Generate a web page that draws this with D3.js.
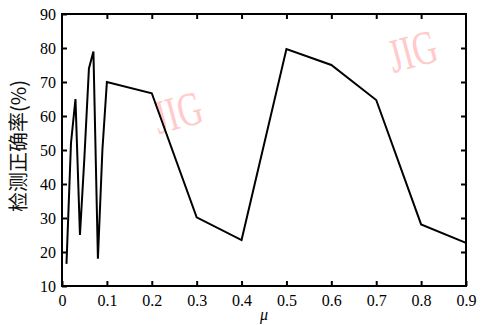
<!DOCTYPE html>
<html>
<head>
<meta charset="utf-8">
<script src="https://cdn.jsdelivr.net/npm/d3@7"></script>
<style>
  html, body { margin: 0; padding: 0; background: #fff; }
  svg { display: block; }
  svg text.serif, svg .axis text { font-family: "Liberation Serif", "Times New Roman", Times, "DejaVu Serif", serif !important; }
</style>
</head>
<body>
<svg id="chart"></svg>
<script>
// data
const muValues = [0.01, 0.02, 0.03, 0.04, 0.05, 0.06, 0.07, 0.08, 0.09, 0.1,
                  0.2, 0.3, 0.4, 0.5, 0.6, 0.7, 0.8, 0.9];
const accuracy = [16.5, 52, 65, 25, 48, 74, 79, 18, 50, 70,
                  66.7, 30.2, 23.5, 79.7, 75, 64.7, 28.1, 22.7];
const xTicks = [0, 0.1, 0.2, 0.3, 0.4, 0.5, 0.6, 0.7, 0.8, 0.9];
const yTicks = [10, 20, 30, 40, 50, 60, 70, 80, 90];
const yLabel = "检测正确率(%)";
const xLabel = "μ";
const watermark = "JIG";

const width = 481, height = 325;
const margin = {top: 14, right: 15, bottom: 39, left: 62};
const w = width - margin.left - margin.right;
const h = height - margin.top - margin.bottom;

const svg = d3.select("#chart")
    .attr("width", width)
    .attr("height", height);

const g = svg.append("g")
    .attr("transform", `translate(${margin.left},${margin.top})`);

const x = d3.scaleLinear().domain([0, 0.9]).range([0, w]);
const y = d3.scaleLinear().domain([10, 90]).range([h, 0]);

// watermarks behind everything (placed in data units of the plot)
const marks = [[0.258, 61], [0.781, 79]];
g.selectAll(".wm")
    .data(marks)
    .join("text")
    .attr("class", "wm serif")
    .attr("transform", d => `translate(${x(d[0])},${y(d[1])}) rotate(-15) scale(0.7,1)`)
    .attr("text-anchor", "middle")
    .attr("dy", "0.33em")
    .attr("font-size", 48)
    .attr("fill", "#ffcaca")
    .text(watermark);

// axes with inward ticks
const fmt = d => d === 0 ? "0" : String(+d.toFixed(1));
const styleAxis = sel => {
    sel.attr("class", "axis").attr("font-size", 16);
    sel.select(".domain").remove();
    sel.selectAll(".tick line").attr("stroke", "#000").attr("stroke-width", 2);
    sel.selectAll(".tick text").attr("fill", "#000");
};

g.append("g")
    .attr("transform", `translate(0,${h})`)
    .call(d3.axisBottom(x).tickValues(xTicks).tickFormat(fmt).tickSizeInner(-5).tickSizeOuter(0).tickPadding(9))
    .call(styleAxis);

g.append("g")
    .call(d3.axisTop(x).tickValues(xTicks.slice(1, -1)).tickFormat("").tickSizeInner(-5).tickSizeOuter(0))
    .call(styleAxis);

g.append("g")
    .call(d3.axisLeft(y).tickValues(yTicks).tickSizeInner(-5).tickSizeOuter(0).tickPadding(6))
    .call(styleAxis);

g.append("g")
    .attr("transform", `translate(${w},0)`)
    .call(d3.axisRight(y).tickValues(yTicks.slice(1, -1)).tickFormat("").tickSizeInner(-5).tickSizeOuter(0))
    .call(styleAxis);

// frame
g.append("rect")
    .attr("width", w)
    .attr("height", h)
    .attr("fill", "none")
    .attr("stroke", "#000")
    .attr("stroke-width", 2);

// data line
const line = d3.line()
    .x((d, i) => x(muValues[i]))
    .y(d => y(d));

g.append("path")
    .datum(accuracy)
    .attr("fill", "none")
    .attr("stroke", "#000")
    .attr("stroke-width", 2)
    .attr("stroke-linejoin", "miter")
    .attr("d", line);

// axis titles
svg.append("text")
    .attr("transform", `translate(19,146) rotate(-90)`)
    .attr("text-anchor", "middle")
    .attr("dy", "0.35em")
    .attr("font-family", "Noto Sans CJK SC, sans-serif")
    .attr("font-size", 20)
    .attr("fill", "#111")
    .text(yLabel);

svg.append("text")
    .attr("class", "serif")
    .attr("x", margin.left + w / 2)
    .attr("y", 320)
    .attr("text-anchor", "middle")
    .attr("font-style", "italic")
    .attr("font-size", 16)
    .attr("fill", "#000")
    .text(xLabel);
</script>
</body>
</html>
